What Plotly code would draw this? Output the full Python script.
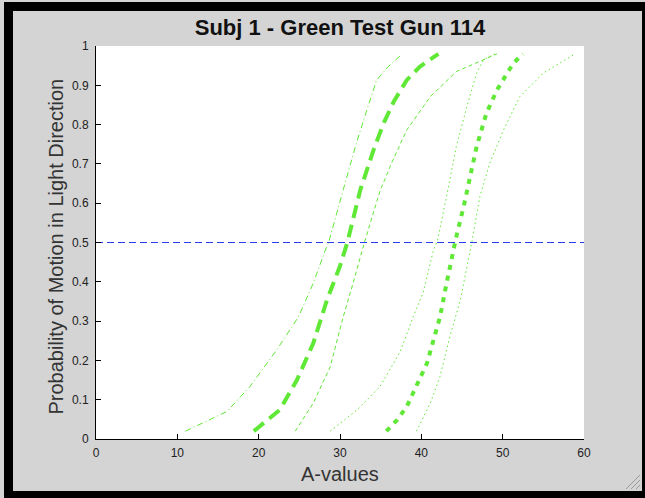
import plotly.graph_objects as go

# ---- data ----
g1_mid_x = [19.4, 22.6, 24.7, 26.7, 28.4, 30.0, 30.9, 32.5, 34.2, 35.4, 36.6, 38.2, 39.8, 42.1]
g1_mid_y = [0.02, 0.074, 0.15, 0.243, 0.354, 0.44, 0.50, 0.634, 0.74, 0.805, 0.858, 0.913, 0.947, 0.98]

g1_lo_x = [11.0, 16.1, 18.9, 22.2, 24.9, 26.7, 28.2, 28.6, 30.4, 32.0, 33.3, 34.5, 35.9, 37.4]
g1_lo_y = [0.02, 0.07, 0.133, 0.226, 0.311, 0.396, 0.481, 0.50, 0.634, 0.752, 0.837, 0.913, 0.947, 0.975]

g1_hi_x = [24.5, 26.7, 28.8, 30.4, 31.6, 32.7, 33.0, 34.9, 36.3, 38.2, 41.1, 44.3, 47.2, 49.3]
g1_hi_y = [0.02, 0.091, 0.184, 0.311, 0.396, 0.481, 0.50, 0.63, 0.70, 0.786, 0.871, 0.935, 0.96, 0.98]

g2_mid_x = [35.7, 37.0, 38.2, 39.0, 39.8, 40.7, 41.5, 42.3, 43.1, 43.9, 44.3, 45.2, 46.0, 46.8, 48.0, 49.3, 51.3, 52.5]
g2_mid_y = [0.02, 0.048, 0.082, 0.116, 0.15, 0.193, 0.252, 0.311, 0.396, 0.481, 0.515, 0.591, 0.667, 0.744, 0.829, 0.888, 0.956, 0.98]

g2_lo_x = [28.8, 32.1, 34.9, 37.4, 39.0, 40.2, 41.5, 42.0, 43.1, 44.3, 45.6, 46.8, 47.6, 49.0]
g2_lo_y = [0.02, 0.074, 0.133, 0.222, 0.311, 0.371, 0.481, 0.506, 0.617, 0.744, 0.846, 0.931, 0.964, 0.98]

g2_hi_x = [39.4, 41.1, 42.3, 43.5, 44.8, 46.0, 46.2, 47.2, 48.4, 50.1, 52.1, 55.0, 57.0, 58.9]
g2_hi_y = [0.02, 0.091, 0.159, 0.26, 0.354, 0.481, 0.50, 0.617, 0.701, 0.786, 0.871, 0.931, 0.956, 0.98]

ref_x = [0, 60]
ref_y = [0.5, 0.5]

x_ticks = [0, 10, 20, 30, 40, 50, 60]
y_ticks = [0, 0.1, 0.2, 0.3, 0.4, 0.5, 0.6, 0.7, 0.8, 0.9, 1]

GREEN = "#5fe836"
BLUE = "#2a3cf0"

fig = go.Figure()
fig.add_trace(go.Scatter(x=g1_lo_x, y=g1_lo_y, mode="lines",
                         line=dict(color=GREEN, width=1, dash="6px,3px,1px,3px")))
fig.add_trace(go.Scatter(x=g1_hi_x, y=g1_hi_y, mode="lines",
                         line=dict(color=GREEN, width=1, dash="4px,3px")))
fig.add_trace(go.Scatter(x=g1_mid_x, y=g1_mid_y, mode="lines",
                         line=dict(color=GREEN, width=4, dash="13px,7px")))
fig.add_trace(go.Scatter(x=g2_lo_x, y=g2_lo_y, mode="lines",
                         line=dict(color=GREEN, width=1, dash="1.5px,3px")))
fig.add_trace(go.Scatter(x=g2_hi_x, y=g2_hi_y, mode="lines",
                         line=dict(color=GREEN, width=1, dash="1.5px,3px")))
fig.add_trace(go.Scatter(x=g2_mid_x, y=g2_mid_y, mode="lines",
                         line=dict(color=GREEN, width=4, dash="5px,6px")))
fig.add_trace(go.Scatter(x=ref_x, y=ref_y, mode="lines",
                         line=dict(color=BLUE, width=1, dash="7px,4px")))

# plot area: px x 96..584, y 46..439
L, R, T, B = 96, 584, 46, 439
W, H = 645, 498
def px(xp):
    return (xp - L) / (R - L)
def py(yp):
    return (B - yp) / (B - T)

axis_common = dict(showgrid=False, zeroline=False, showline=True, linecolor="black",
                   linewidth=1, ticks="inside", ticklen=5, tickcolor="black", tickwidth=1,
                   mirror=False,
                   tickfont=dict(family="Liberation Sans, Arial, sans-serif", size=12, color="#222"))

fig.update_layout(
    width=W, height=H,
    margin=dict(l=L, r=W - R, t=T, b=H - B),
    paper_bgcolor="#d4d4d4",
    plot_bgcolor="white",
    showlegend=False,
    title=dict(text="<b>Subj 1 - Green Test Gun 114</b>", x=0.5, xref="paper",
               y=1 - 27 / H, yref="container", xanchor="center", yanchor="middle",
               font=dict(family="Liberation Sans, Arial, sans-serif", size=22, color="#111")),
    xaxis=dict(range=[0, 60], tickvals=x_ticks, ticklabelstandoff=3, **axis_common),
    yaxis=dict(range=[0, 1], tickvals=y_ticks, ticklabelstandoff=4, **axis_common),
)

lab_font = dict(family="Liberation Sans, Arial, sans-serif", size=20, color="#333")
fig.add_annotation(text="A-values", xref="paper", yref="paper", x=0.5, y=py(474),
                   xanchor="center", yanchor="middle", showarrow=False, font=lab_font)
fig.add_annotation(text="Probability of Motion in Light Direction", xref="paper", yref="paper",
                   x=px(55), y=py(246.5), xanchor="center", yanchor="middle",
                   textangle=-90, showarrow=False, font=lab_font)

# black window frame around the figure
def band(x0, y0, x1, y1, color="black"):
    fig.add_shape(type="rect", xref="paper", yref="paper",
                  x0=px(x0), x1=px(x1), y0=py(y0), y1=py(y1),
                  fillcolor=color, line=dict(width=0), layer="above")

band(4, 2, 645, 11)      # top
band(4, 2, 13, 498)      # left
band(642, 2, 645, 498)   # right
band(4, 491, 645, 498)   # bottom

# resize grip lines at lower right
for k in range(3):
    d = 4 + k * 5
    fig.add_shape(type="line", xref="paper", yref="paper",
                  x0=px(640 - d), y0=py(489), x1=px(640), y1=py(489 - d),
                  line=dict(color="#9a9a9a", width=1))

fig.write_html("out.html")
